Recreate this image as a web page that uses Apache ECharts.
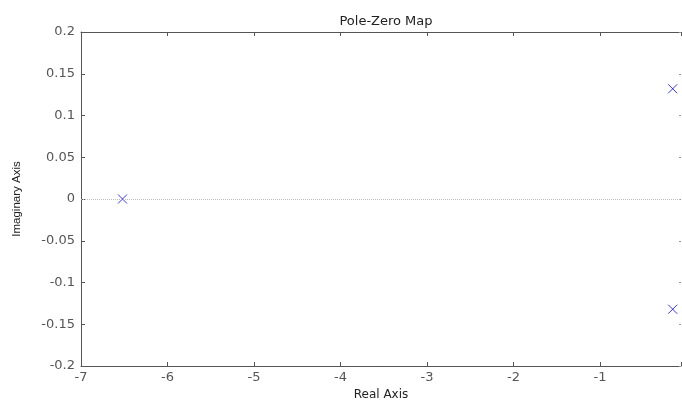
<!DOCTYPE html>
<html>
<head>
<meta charset="utf-8">
<script src="https://cdn.jsdelivr.net/npm/echarts@6/dist/echarts.min.js"></script>
<style>
  html, body { margin: 0; padding: 0; background: #fff; }
  #chart { width: 682px; height: 401px; }
</style>
</head>
<body>
<div id="chart"></div>
<script>
// poles: [real, imag]
const poleReal = [-6.52, -0.16, -0.16];
const poleImag = [0, 0.132, -0.132];

const xRange = [-7, -0.064];
const yRange = [-0.2, 0.2];

const chart = echarts.init(document.getElementById('chart'));

const axisColor = '#555';
const font = 'DejaVu Sans, sans-serif';

const baseX = {
    type: 'value', min: xRange[0], max: xRange[1], interval: 1,
    axisLine: { show: true, onZero: false, lineStyle: { color: axisColor, width: 1 } },
    axisTick: { show: true, inside: true, length: 4, lineStyle: { color: axisColor } },
    splitLine: { show: false }
};
const baseY = {
    type: 'value', min: yRange[0], max: yRange[1], interval: 0.05,
    axisLine: { show: true, onZero: false, lineStyle: { color: axisColor, width: 1 } },
    axisTick: { show: true, inside: true, length: 4, lineStyle: { color: axisColor } },
    splitLine: { show: false }
};

chart.setOption({
    animation: false,
    title: {
        text: 'Pole-Zero Map', left: 381, top: 10, textAlign: 'center',
        textStyle: { fontFamily: font, fontSize: 13, fontWeight: 'normal', color: '#222' }
    },
    grid: { left: 81, right: 1, top: 32, bottom: 35, outerBoundsMode: 'none' },
    xAxis: [
        Object.assign({}, baseX, {
            position: 'bottom',
            name: 'Real Axis', nameLocation: 'middle', nameGap: 23,
            nameTextStyle: { fontFamily: font, fontSize: 12, color: '#222' },
            axisLabel: {
                fontFamily: font, fontSize: 13, color: axisColor, margin: 5,
                formatter: v => (v > -0.5 ? '' : String(v))
            }
        }),
        Object.assign({}, baseX, { position: 'top', axisLabel: { show: false } })
    ],
    yAxis: [
        Object.assign({}, baseY, {
            position: 'left',
            name: 'Imaginary Axis', nameLocation: 'middle', nameGap: 58,
            nameTextStyle: { fontFamily: 'Liberation Sans, Arial, sans-serif', fontSize: 11.5, color: '#222' },
            axisLabel: {
                fontFamily: font, fontSize: 13, color: axisColor, margin: 6,
                formatter: v => String(Math.round(v * 100) / 100)
            }
        }),
        // right frame side is cut off by the image edge, only short ticks show
        Object.assign({}, baseY, {
            position: 'right', axisLabel: { show: false },
            axisLine: { show: false },
            axisTick: { show: true, inside: true, length: 2, lineStyle: { color: '#999' } }
        })
    ],
    series: [{
        type: 'scatter',
        symbol: 'path://M0,0L10,10M10,0L0,10',
        symbolSize: 9,
        itemStyle: { color: 'none', borderColor: '#0000ff', borderWidth: 1 },
        data: poleReal.map((r, i) => [r, poleImag[i]]),
        markLine: {
            silent: true, symbol: 'none', label: { show: false },
            lineStyle: { color: '#bbb', type: 'dotted', width: 1 },
            data: [{ yAxis: 0 }]
        }
    }]
});
</script>
</body>
</html>
